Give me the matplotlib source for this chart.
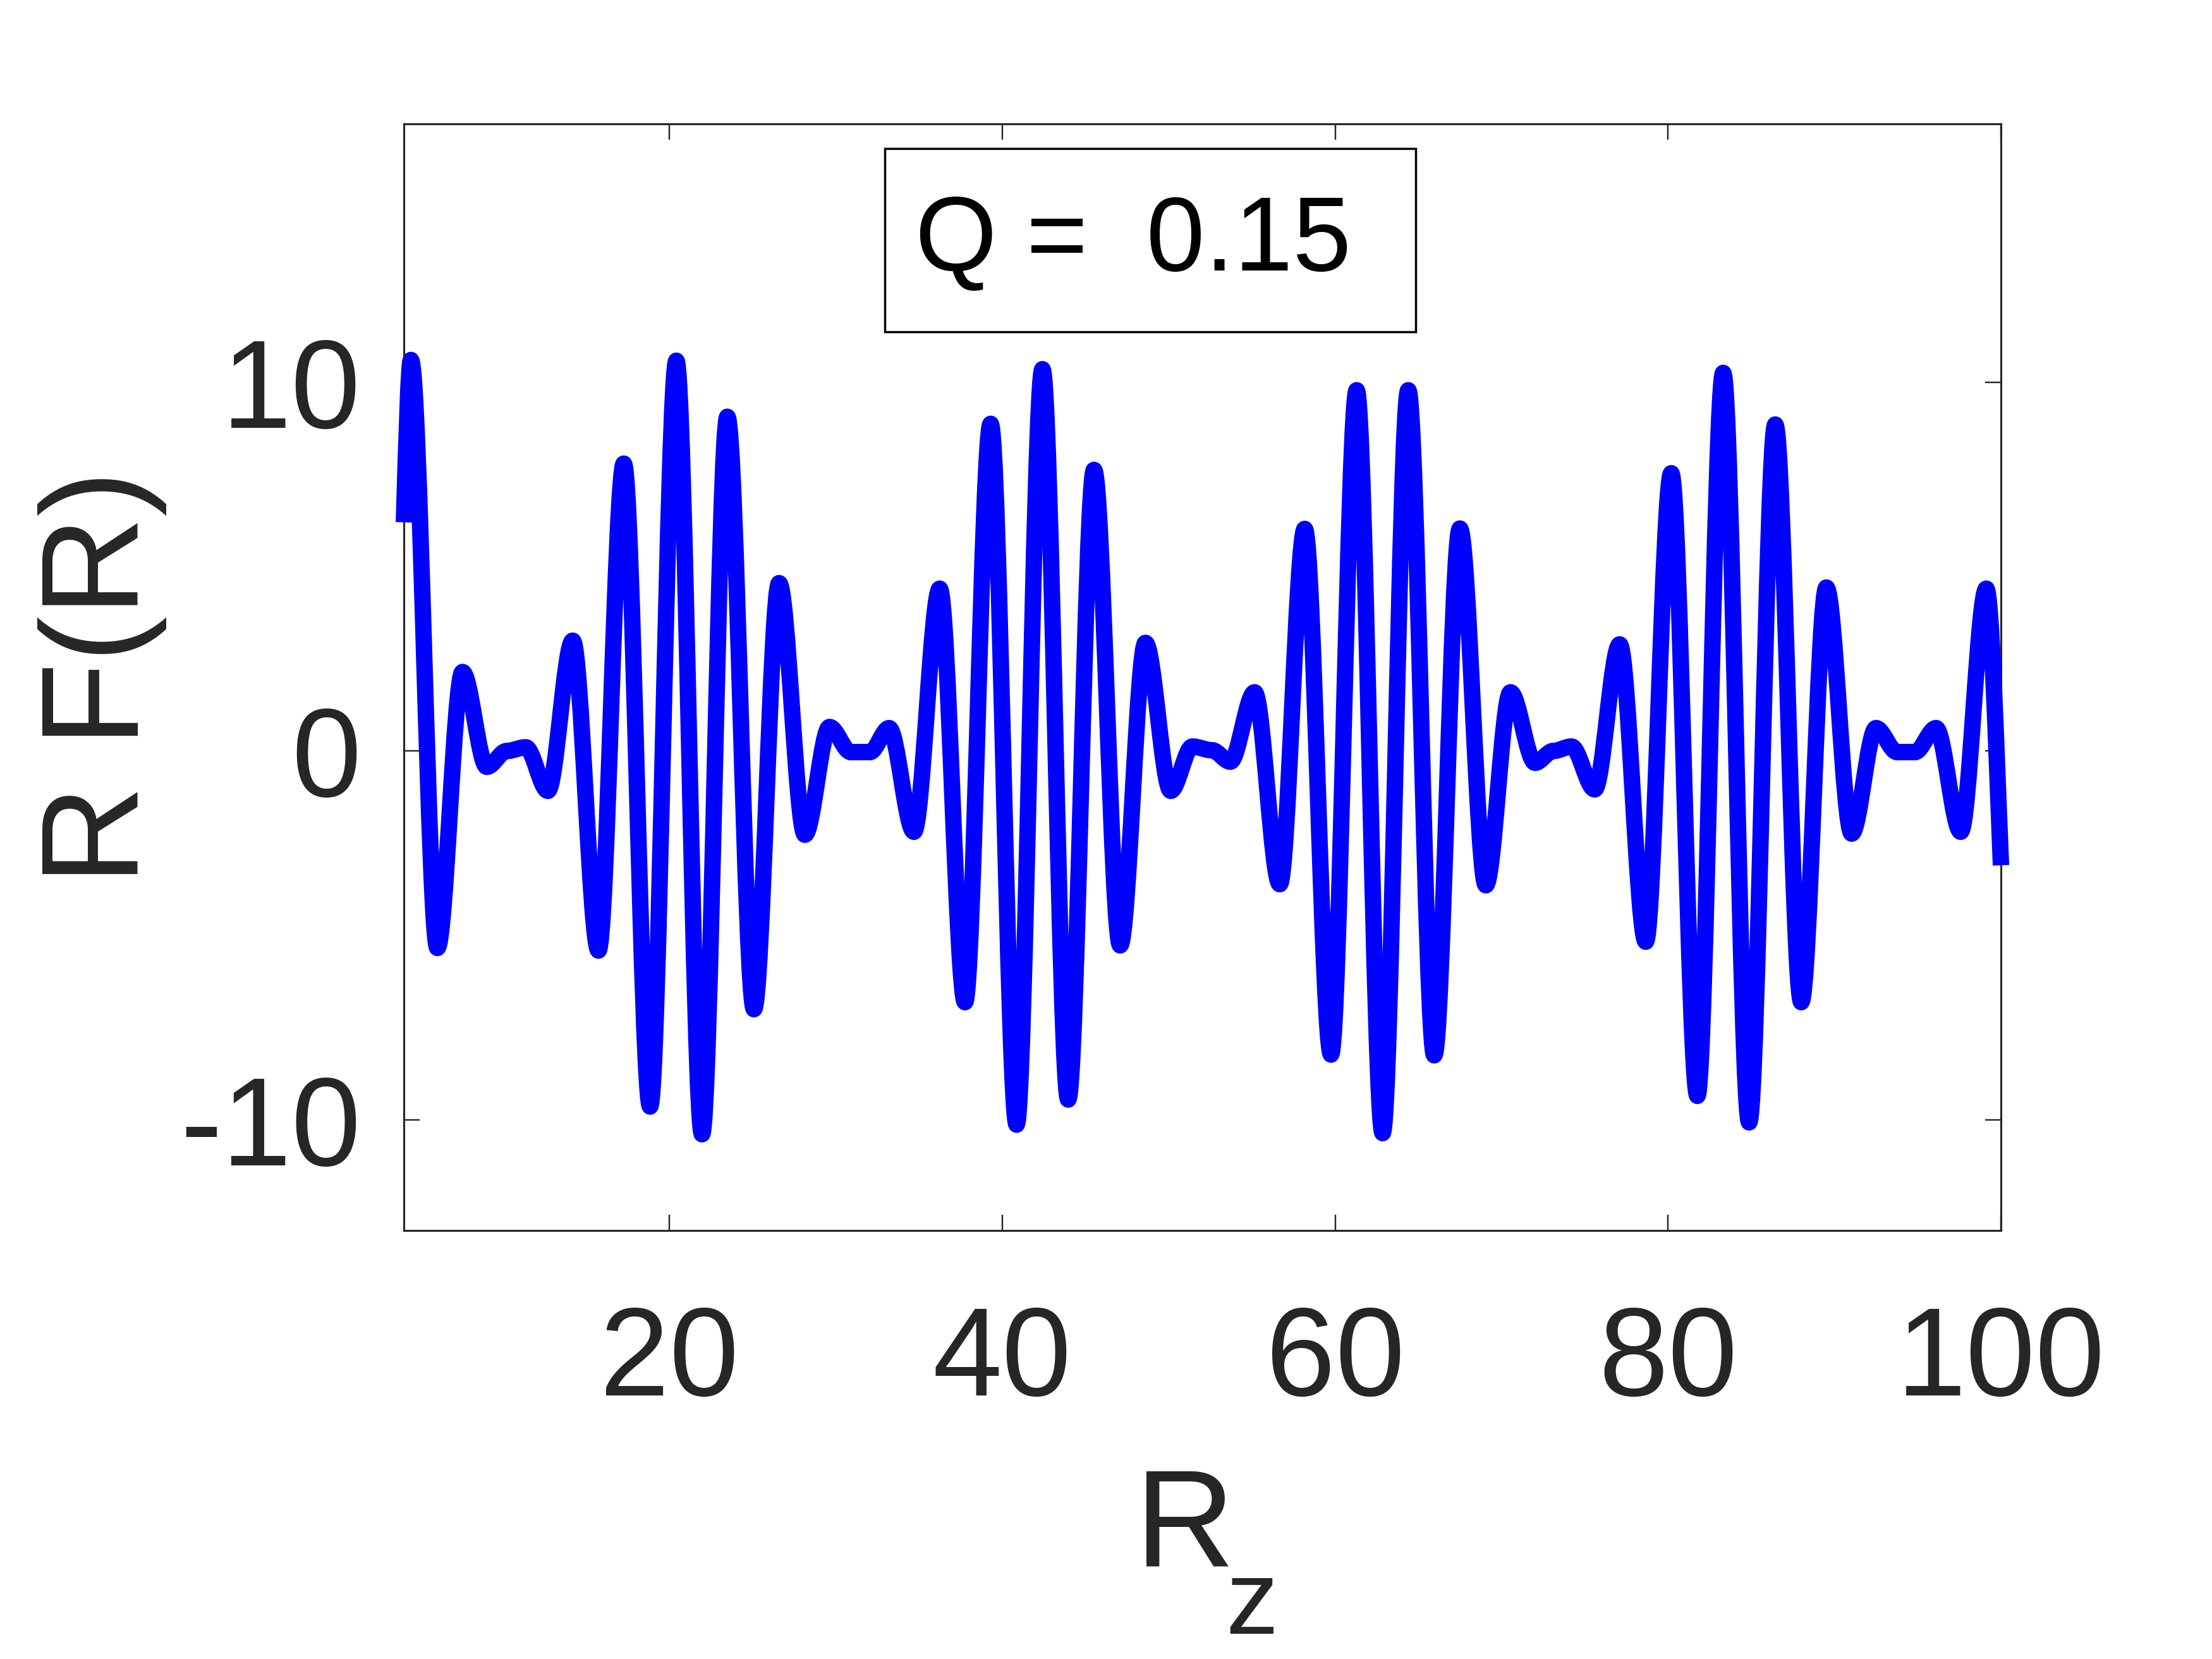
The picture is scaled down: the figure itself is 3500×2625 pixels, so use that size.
import numpy as np
import matplotlib
matplotlib.use('Agg')
import matplotlib.pyplot as plt
from matplotlib.path import Path
from matplotlib.patches import PathPatch, Rectangle

plt.rcParams['font.family'] = ['Liberation Sans', 'DejaVu Sans']
plt.rcParams['axes.unicode_minus'] = False

# turning points of the curve
rz = [4.05, 4.47, 6.06, 7.57, 9.03, 10.23, 11.37, 12.70, 14.19, 15.74, 17.26, 18.84,
      20.42, 21.96, 23.48, 25.08, 26.59, 28.14, 29.62, 30.90, 32.05, 33.20, 34.69, 36.24,
      37.76, 39.30, 40.86, 42.41, 43.96, 45.51, 47.08, 48.60, 50.12, 51.42, 52.60, 53.70,
      55.16, 56.67, 58.17, 59.75, 61.29, 62.85, 64.39, 65.95, 67.49, 69.05,
      70.53, 72.01, 73.10, 74.20, 75.59, 77.09, 78.66, 80.19, 81.76, 83.31, 84.87,
      86.44, 88.00, 89.51, 91.03, 92.49, 93.76, 94.83, 96.10, 97.58, 99.12, 100.0]
rf = [6.2, 10.6, -5.34, 2.14, -0.43, 0.0, 0.1, -1.08, 2.99, -5.41, 7.79, -9.64,
      10.58, -10.39, 9.06, -7.0, 4.55, -2.27, 0.65, -0.03, -0.03, 0.62, -2.19, 4.4,
      -6.81, 8.87, -10.13, 10.35, -9.45, 7.62, -5.27, 2.93, -1.08, 0.12, 0.02, -0.29,
      1.59, -3.61, 6.02, -8.23, 9.78, -10.36, 9.78, -8.25, 6.03, -3.64,
      1.59, -0.32, 0.0, 0.12, -1.04, 2.89, -5.17, 7.53, -9.35, 10.25, -10.07,
      8.85, -6.81, 4.43, -2.24, 0.62, -0.03, -0.03, 0.62, -2.19, 4.4, -3.1]
# slope of the curve where it enters / leaves the plot
slope_start = 15.0
slope_end = -11.0

xticks = [20, 40, 60, 80, 100]
yticks = [-10, 0, 10]
label_text = 'Q =  0.15'

assert len(rz) == len(rf)

# smooth curve: cubic segments with flat tangents at each turning point
slopes = [0.0] * len(rz)
slopes[0] = slope_start
slopes[-1] = slope_end
verts = [(rz[0], rf[0])]
codes = [Path.MOVETO]
for i in range(len(rz) - 1):
    x0, y0, x1, y1 = rz[i], rf[i], rz[i + 1], rf[i + 1]
    d = (x1 - x0) / 3.0
    verts += [(x0 + d, y0 + slopes[i] * d), (x1 - d, y1 - slopes[i + 1] * d), (x1, y1)]
    codes += [Path.CURVE4] * 3

fig = plt.figure(figsize=(14, 10.5), dpi=250)
ax = fig.add_axes([0.1826, 0.2583, 0.7220, 0.6670])

curve = PathPatch(Path(verts, codes), fill=False, edgecolor='#0000ff', lw=7.5,
                  capstyle='butt', joinstyle='round', clip_on=False, zorder=3)
ax.add_patch(curve)

ax.set_xlim(4.05, 100)
ax.set_ylim(-13, 17)
ax.set_xticks(xticks)
ax.set_yticks(yticks)

dark = '#262626'
ax.tick_params(direction='in', length=7.3, width=0.7, top=True, right=True,
               labelsize=57, colors=dark)
ax.tick_params(axis='x', pad=33.7)
ax.tick_params(axis='y', pad=19.6)
for s in ax.spines.values():
    s.set_color(dark)
    s.set_linewidth(0.9)

ax.set_ylabel('R F(R)', fontsize=63, color=dark)
ax.yaxis.set_label_coords(-0.1484, 0.5)
ax.set_xlabel('R', fontsize=63, color=dark, ha='left', va='baseline')
ax.xaxis.set_label_coords(0.4579, -0.3033)
ax.text(0.5144, -0.3644, 'z', transform=ax.transAxes, fontsize=48, color=dark,
        ha='left', va='baseline')

box = Rectangle((0.3011, 0.8121), 0.3325, 0.1656, transform=ax.transAxes,
                facecolor='white', edgecolor='black', lw=1.0, zorder=5)
ax.add_patch(box)
ax.text(0.3201, 0.8675, label_text, transform=ax.transAxes, fontsize=48,
        color='black', ha='left', va='baseline', zorder=6)

fig.savefig('out.png', dpi=250, facecolor='white')
